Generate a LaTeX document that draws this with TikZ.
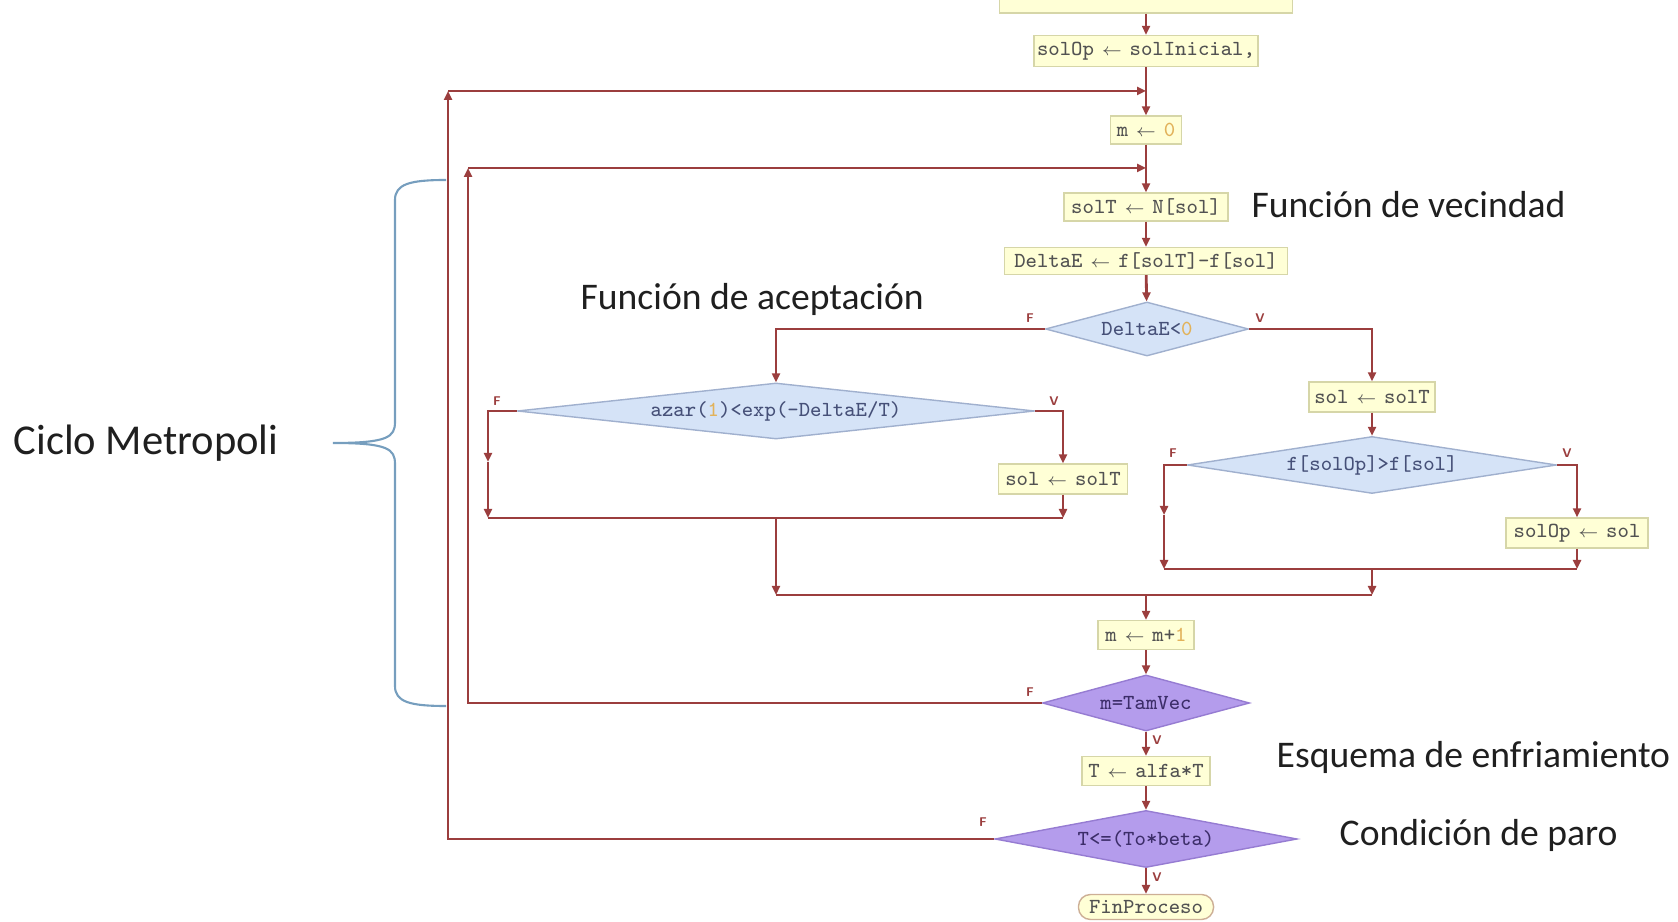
\documentclass[tikz,border=0pt]{standalone}
\usepackage{fontspec}
\setmainfont{Carlito}
\usepackage{graphicx}
\usepackage{tikz}
\usetikzlibrary{arrows,arrows.meta,positioning,shapes,calc}
\definecolor{flowred}{RGB}{155,62,62}
\definecolor{boxfill}{RGB}{255,255,214}
\definecolor{boxline}{RGB}{214,214,168}
\definecolor{finline}{RGB}{205,175,150}
\definecolor{bluefill}{RGB}{213,227,247}
\definecolor{blueline}{RGB}{160,176,206}
\definecolor{lilafill}{RGB}{180,156,236}
\definecolor{lilaline}{RGB}{150,124,210}
\definecolor{numcol}{RGB}{226,178,90}
\definecolor{bracecol}{RGB}{118,158,190}
\newcommand{\flecha}{\makebox[0.6em][c]{\scalebox{0.8}{$\leftarrow$}}}
\newcommand{\numc}[1]{\textcolor{numcol}{#1}}
\tikzstyle{every box} = []
\tikzstyle{every test} = []
\tikzstyle{flow} = [>={Triangle[length=0.9mm, width=0.8mm]}, draw=flowred, line width=0.8pt]
\tikzstyle{box} = [rectangle, draw=boxline, fill=boxfill, line width=0.4pt,
text={black!68}, font=\fontsize{6.1}{7}\ttfamily,
inner xsep=0.3mm, inner ysep=0pt, every box]
\tikzstyle{test} = [diamond, draw=blueline, fill=bluefill, line width=0.4pt,
text={rgb,255:red,70;green,80;blue,120}, font=\fontsize{6.1}{7}\ttfamily,
inner sep=0pt, every test]
\tikzstyle{loop test} = [test, draw=lilaline, fill=lilafill,
text={rgb,255:red,60;green,45;blue,105}]
\tikzstyle{flag} = [font=\fontsize{3.6}{4}\sffamily\bfseries, text=flowred, inner sep=0pt]
\tikzstyle{note} = [font=\fontsize{10.7}{12}\selectfont, text={black!88}, inner sep=0pt]

\begin{document}
\begin{tikzpicture}[x=0.01cm, y=-0.01cm]
	\useasboundingbox (0,0) rectangle (1678,922);
	\clip (0,0) rectangle (1678,922);

	% main column
	\node[box, minimum width=29.3mm, minimum height=4mm] (init) at (1146,-7) {};
	\node[box, minimum width=22mm, minimum height=3.1mm] (solop) at (1146,51) {solOp \flecha{} solInicial,};
	\node[box, minimum width=7.1mm, minimum height=2.8mm] (mzero) at (1146,130) {m \flecha{} \numc{0}};
	\node[box, minimum width=16.4mm, minimum height=2.8mm] (solt) at (1146,207) {solT \flecha{} N[sol]};
	\node[box, minimum width=28.3mm, minimum height=2.7mm] (delta) at (1146,261) {DeltaE \flecha{} f[solT]-f[sol]};
	\node[test, minimum width=20.3mm, minimum height=5.4mm, aspect=3.8] (neg) at (1147,329) {DeltaE<\numc{0}};

	% acceptance branch
	\node[test, minimum width=51.7mm, minimum height=5.6mm, aspect=9.2] (azar) at (776,411) {azar(\numc{1})<exp(-DeltaE/T)};
	\node[box, minimum width=12.9mm, minimum height=3mm] (soll) at (1063,479) {sol \flecha{} solT};

	% improvement branch
	\node[box, minimum width=12.6mm, minimum height=3mm] (solr) at (1372,397) {sol \flecha{} solT};
	\node[test, minimum width=36.9mm, minimum height=5.7mm, aspect=6.5] (fcmp) at (1372,465) {f[solOp]>f[sol]};
	\node[box, minimum width=14.2mm, minimum height=3mm] (solopr) at (1577,533) {solOp \flecha{} sol};

	\node[box, minimum width=9.6mm, minimum height=2.9mm] (minc) at (1146,635) {m \flecha{} m+\numc{1}};
	\node[loop test, minimum width=20.7mm, minimum height=5.6mm, aspect=3.7] (tam) at (1146,703) {m=TamVec};
	\node[box, minimum width=12.8mm, minimum height=2.9mm] (talfa) at (1146,771) {T \flecha{} alfa*T};
	\node[loop test, minimum width=30.2mm, minimum height=5.7mm, aspect=5.3] (stop) at (1146,839) {T<=(To*beta)};
	\node[box, draw=finline, rounded corners=1.2mm, minimum width=13.5mm, minimum height=2.5mm] (fin) at (1146,907) {FinProceso};

	% corners and joins
	\coordinate (lmid) at (488,462);
	\coordinate (ljoinl) at (488,518);
	\coordinate (ljoinr) at (1063,518);
	\coordinate (ljoinm) at (776,518);
	\coordinate (rmid) at (1164,515);
	\coordinate (rjoinl) at (1164,569);
	\coordinate (rjoinr) at (1577,569);
	\coordinate (rjoinm) at (1372,569);
	\coordinate (bjoinl) at (776,595);
	\coordinate (bjoinr) at (1372,595);
	\coordinate (bjoinm) at (1146,595);
	\coordinate (innertop) at (468,168);
	\coordinate (innerjoin) at (1146,168);
	\coordinate (outertop) at (448,91);
	\coordinate (outerjoin) at (1146,91);

	\draw[flow,->] (init) -- (solop);
	\draw[flow,->] (solop) -- (mzero);
	\draw[flow,->] (mzero) -- (solt);
	\draw[flow,->] (solt) -- (delta);
	\draw[flow,->] (delta) -- (neg);

	\draw[flow,->] (neg.west) -| (azar);
	\draw[flow,->] (azar.east) -| (soll);
	\draw[flow,->] (azar.west) -| (lmid);
	\draw[flow,->] (lmid) -- (ljoinl);
	\draw[flow,->] (soll) -- (ljoinr);
	\draw[flow] (ljoinl) -- (ljoinr);
	\draw[flow,->] (ljoinm) -- (bjoinl);

	\draw[flow,->] (neg.east) -| (solr);
	\draw[flow,->] (solr) -- (fcmp);
	\draw[flow,->] (fcmp.east) -| (solopr);
	\draw[flow,->] (fcmp.west) -| (rmid);
	\draw[flow,->] (rmid) -- (rjoinl);
	\draw[flow,->] (solopr) -- (rjoinr);
	\draw[flow] (rjoinl) -- (rjoinr);
	\draw[flow,->] (rjoinm) -- (bjoinr);
	\draw[flow] (bjoinl) -- (bjoinr);

	\draw[flow,->] (bjoinm) -- (minc);
	\draw[flow,->] (minc) -- (tam);
	\draw[flow,->] (tam) -- (talfa);
	\draw[flow,->] (talfa) -- (stop);
	\draw[flow,->] (stop) -- (fin);

	% loops back
	\draw[flow,->] (tam.west) -| (innertop);
	\draw[flow,->] (innertop) -- (innerjoin);
	\draw[flow,->] (stop.west) -| (outertop);
	\draw[flow,->] (outertop) -- (outerjoin);

	% F / V flags
	\node[flag] (negf) at (1030,318) {F};
	\node[flag] (negv) at (1260,318) {V};
	\node[flag] (azarf) at (497,401) {F};
	\node[flag] (azarv) at (1054,401) {V};
	\node[flag] (fcmpf) at (1173,453) {F};
	\node[flag] (fcmpv) at (1567,453) {V};
	\node[flag] (tamf) at (1030,692) {F};
	\node[flag] (tamv) at (1157,740) {V};
	\node[flag] (stopf) at (983,822) {F};
	\node[flag] (stopv) at (1157,877) {V};

	% notes
	\node[note, anchor=west] (vecindad) at (1251,205) {Función de vecindad};
	\node[note, anchor=west] (aceptacion) at (580,299) {Función de aceptación};
	\node[note, anchor=west, font=\fontsize{12.1}{14}\selectfont] (ciclo) at (13,443) {Ciclo Metropoli};
	\node[note, anchor=west] (esquema) at (1276,757) {Esquema de enfriamiento};
	\node[note, anchor=west] (paro) at (1339,835) {Condición de paro};

	\draw[bracecol, line width=0.6pt] (446,180) .. controls (410,180) and (395,184) .. (395,200) -- (395,422)
		.. controls (395,437) and (388,443) .. (333,443)
		.. controls (388,443) and (395,449) .. (395,464) -- (395,686)
		.. controls (395,702) and (410,706) .. (446,706);
\end{tikzpicture}
\end{document}
